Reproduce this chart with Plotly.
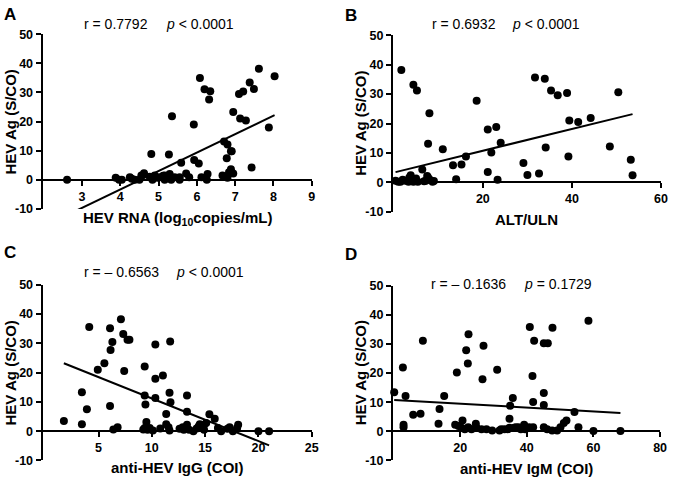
import plotly.graph_objects as go

# ---------------- data ----------------
A_x = [2.61, 3.88, 3.97, 4.04, 4.25, 4.30, 4.38, 4.50, 4.55, 4.62, 4.77, 4.81, 4.84, 4.90, 4.97,
       5.03, 5.12, 5.16, 5.16, 5.27, 5.29, 5.33, 5.35, 5.42, 5.55, 5.55, 5.59, 5.72, 5.80, 5.92,
       5.93, 6.05, 6.08, 6.12, 6.20, 6.26, 6.28, 6.32, 6.35, 6.67, 6.71, 6.80, 6.78, 6.89, 6.89,
       6.84, 6.91, 6.95, 6.95, 6.80, 7.10, 7.21, 7.13, 7.28, 7.38, 7.49, 7.43, 7.62, 7.88, 8.03]
A_y = [0, 0.7, 0, 0, 0.9, 0.4, 0, 0, 1.5, 2.3, 1.1, 8.9, 0, 1.5, 0.7,
       0.9, 1.4, 0, 1.5, 8.7, 2.0, 0, 21.8, 0.9, 0, 0.9, 5.9, 2.2, 0.9, 19.0,
       6.8, 5.6, 35.0, 0.9, 31.1, 0, 2.0, 27.6, 30.4, 1.5, 13.2, 12.1, 7.4, 9.8, 3.6,
       2.6, 9.8, 23.3, 2.2, 0.7, 29.5, 30.3, 21.1, 20.4, 33.4, 31.2, 4.2, 38.1, 18.0, 35.6]

B_x = [0.4, 1.0, 1.5, 2.0, 2.6, 3.3, 3.5, 4.0, 4.4, 3.8, 5.0, 5.4, 7.2, 7.7, 8.1, 8.7, 7.5, 6.8, 9.0,
       1.7, 4.4, 5.2, 6.4, 8.0, 7.7, 11.0, 13.3, 15.2, 16.2, 14.0, 18.6, 21.1, 23.0, 21.9, 24.0,
       21.1, 23.3, 29.1, 30.0, 31.7, 32.6, 33.9, 35.3, 36.8, 34.1, 38.9, 39.4, 39.2, 41.4, 44.2,
       48.5, 50.4, 53.2, 53.6]
B_y = [0.6, 0.2, 0.2, 0.9, 0.6, 0.2, 1.7, 0.9, 0.2, 2.4, 1.3, 0.2, 0.6, 1.7, 0.9, 0.2, 2.2, 0.4, 0.5,
       38.2, 33.2, 31.2, 4.4, 23.5, 13.1, 11.3, 5.8, 6.1, 8.8, 1.1, 27.7, 18.0, 18.8, 10.2, 13.5,
       3.5, 0.9, 6.6, 2.5, 35.6, 3.0, 35.2, 31.2, 29.6, 11.9, 30.4, 21.0, 8.8, 20.5, 21.9,
       12.2, 30.6, 7.7, 2.4]

C_x = [1.75, 3.44, 3.44, 3.91, 4.13, 4.93, 5.55, 6.08, 6.08, 6.13, 6.30, 6.39, 6.79, 7.10, 7.32,
       7.41, 7.72, 7.90, 9.33, 9.33, 9.40, 9.49, 9.33, 9.20, 9.6, 9.8, 10.1, 10.33, 10.33, 10.33,
       10.79, 11.04, 11.35, 11.35, 11.57, 11.66, 11.72, 11.75, 11.66, 13.3, 13.3, 12.6, 12.9, 13.0,
       13.3, 13.5, 13.9, 14.2, 14.4, 14.5, 14.7, 14.9, 15.1, 15.4, 15.9, 14.9, 16.2, 16.5, 17.1,
       17.3, 17.6, 18.0, 18.1, 20.0, 21.0]
C_y = [3.5, 13.3, 2.4, 7.5, 35.6, 21.0, 23.2, 35.1, 8.6, 27.7, 30.4, 0.6, 1.3, 38.2, 33.2,
       20.5, 31.2, 31.2, 22.1, 12.2, 9.1, 3.1, 1.1, 0.6, 0.5, 1.1, 0.2, 29.6, 17.9, 11.3,
       0.9, 19.0, 5.9, 2.4, 1.3, 13.1, 30.6, 9.9, 0.2, 12.2, 6.6, 0.8, 1.3, 0.5,
       2.2, 0.5, 0, 0.9, 1.7, 2.4, 1.3, 0.5, 2.8, 5.8, 4.2, 2.2, 1.1, 0, 0.8,
       1.3, 0, 1.1, 2.2, 0, 0]

D_x = [0.2, 2.8, 3.6, 3.0, 3.0, 5.9, 8.1, 8.8, 13.8, 13.5, 15.2, 19.0, 18.5, 19.5, 20.7, 20.4,
       21.4, 22.4, 21.8, 22.5, 22.3, 23.4, 24.7, 24.9, 26.4, 26.7, 27.0, 27.9, 29.6, 31.1, 31.8,
       32.3, 33.3, 34.3, 34.8, 35.0, 35.8, 34.8, 36.2, 36.7, 37.5, 38.2, 39.2, 39.5, 40.7, 40.9,
       41.7, 41.9, 41.9, 42.2, 45.1, 45.1, 45.1, 46.3, 45.1, 46.1, 47.6, 47.7, 49.1, 50.1, 51.1,
       51.9, 54.3, 55.5, 58.5, 60.0, 68.1]
D_y = [13.4, 21.9, 12.1, 2.3, 1.4, 5.7, 6.0, 31.1, 7.7, 2.6, 12.1, 20.2, 2.3, 1.8, 3.7, 1.2,
       0.7, 1.4, 27.8, 33.3, 23.3, 0.7, 2.6, 1.2, 0.7, 17.9, 29.4, 0.7, 0.3, 21.1, 0.3,
       0.7, 0.7, 0.7, 4.3, 8.8, 11.4, 1.2, 1.2, 1.4, 1.4, 0.7, 2.3, 0.7, 1.4, 35.8,
       19.0, 10.1, 1.4, 31.1, 13.2, 9.0, 30.2, 30.2, 1.4, 0.7, 0.3, 35.6, 0.3, 1.4, 2.9,
       3.7, 6.6, 1.4, 38.0, 0.1, 0.1]

# regression lines as drawn in the reference (slope, intercept)
FIT_SLOPE = [6.33, 0.370, -1.456, -0.066]
FIT_INTERCEPT = [-28.62, 3.35, 25.75, 10.81]

R_TEXT = ["r = 0.7792", "r = 0.6932", "r = \u2013 0.6563", "r = \u2013 0.1636"]
P_TEXT = ["<i>p</i> &lt; 0.0001", "<i>p</i> &lt; 0.0001", "<i>p</i> &lt; 0.0001", "<i>p</i> = 0.1729"]
PANEL_LABELS = ["A", "B", "C", "D"]
X_TITLES = ["HEV RNA (log<sub>10</sub>copies/mL)", "ALT/ULN", "anti-HEV IgG (COI)", "anti-HEV IgM (COI)"]
Y_TITLE = "HEV Ag (S/CO)"
X_TICKS = [[3, 4, 5, 6, 7, 8, 9], [20, 40, 60], [5, 10, 15, 20, 25], [20, 40, 60, 80]]
Y_TICKS = [-10, 0, 10, 20, 30, 40, 50]
Y_TICKTEXT = ["-10", "0", "10", "20", "30", "40", "50"]

# ---------------- layout geometry (pixels) ----------------
W, H = 675, 483
X_RANGES = [[1.97, 9], [-0.2, 60], [-0.25, 25], [-0.2, 80]]
PLOT_PX = [  # x0, x1, ytop, ybottom
    (43, 315, 28, 208),
    (397, 668, 29, 211),
    (43, 315, 286, 467),
    (397, 667, 287, 467),
]
R_POS = [(83, 17), (435, 18), (83, 273), (434, 285)]
P_POS = [(166, 17), (515, 18), (176, 273), (527, 285)]
LETTER_POS = [(2, 8), (347, 9), (2, 253), (347, 255)]
XTITLE_Y = [218, 219, 474, 475]
YTITLE_X = [11, 364, 11, 364]

FONT = "Liberation Sans, Arial, sans-serif"

fig = go.Figure()
datasets = [(A_x, A_y), (B_x, B_y), (C_x, C_y), (D_x, D_y)]
annotations = []
layout = {}

for i, (xs, ys) in enumerate(datasets):
    n = "" if i == 0 else str(i + 1)
    xa, ya = "x" + n, "y" + n
    x0, x1, yt, yb = PLOT_PX[i]
    dx = [x0 / W, x1 / W]
    dy = [1 - yb / H, 1 - yt / H]
    ymin, ymax = -10, 50
    zero_pos = dy[0] + (0 - ymin) / (ymax - ymin) * (dy[1] - dy[0])

    fig.add_trace(go.Scatter(x=xs, y=ys, mode="markers", xaxis=xa, yaxis=ya,
                             marker=dict(color="black", size=8, line=dict(width=0)),
                             cliponaxis=False, showlegend=False))
    lx = [min(xs), max(xs)]
    ly = [FIT_SLOPE[i] * v + FIT_INTERCEPT[i] for v in lx]
    fig.add_trace(go.Scatter(x=lx, y=ly, mode="lines", xaxis=xa, yaxis=ya,
                             line=dict(color="black", width=2), showlegend=False))

    layout["xaxis" + n] = dict(domain=dx, range=X_RANGES[i], anchor="free", position=zero_pos,
                               showline=True, linecolor="black", linewidth=2,
                               ticks="outside", ticklen=5, tickwidth=2, tickcolor="black",
                               tickvals=X_TICKS[i], showgrid=False, zeroline=False,
                               tickfont=dict(family=FONT, size=12.5, color="black", weight="bold"))
    layout["yaxis" + n] = dict(domain=dy, range=[ymin, ymax], anchor=xa,
                               showline=True, linecolor="black", linewidth=2,
                               ticks="outside", ticklen=5, tickwidth=2, tickcolor="black",
                               tickvals=Y_TICKS, ticktext=Y_TICKTEXT, showgrid=False, zeroline=False,
                               tickfont=dict(family=FONT, size=12.5, color="black", weight="bold"))

    annotations.append(dict(text=R_TEXT[i], x=R_POS[i][0] / W, y=1 - R_POS[i][1] / H,
                            xref="paper", yref="paper", xanchor="left", yanchor="middle",
                            showarrow=False, font=dict(family=FONT, size=14, color="black")))
    annotations.append(dict(text=P_TEXT[i], x=P_POS[i][0] / W, y=1 - P_POS[i][1] / H,
                            xref="paper", yref="paper", xanchor="left", yanchor="middle",
                            showarrow=False, font=dict(family=FONT, size=14, color="black")))
    annotations.append(dict(text="<b>" + PANEL_LABELS[i] + "</b>", x=LETTER_POS[i][0] / W,
                            y=1 - LETTER_POS[i][1] / H, xref="paper", yref="paper",
                            xanchor="left", yanchor="middle", showarrow=False,
                            font=dict(family=FONT, size=17, color="black")))
    annotations.append(dict(text="<b>" + X_TITLES[i] + "</b>", x=(x0 + x1) / 2 / W,
                            y=1 - XTITLE_Y[i] / H, xref="paper", yref="paper",
                            xanchor="center", yanchor="middle", showarrow=False,
                            font=dict(family=FONT, size=15, color="black")))
    annotations.append(dict(text="<b>" + Y_TITLE + "</b>", x=YTITLE_X[i] / W,
                            y=1 - (yt + yb) / 2 / H, xref="paper", yref="paper",
                            xanchor="center", yanchor="middle", textangle=-90, showarrow=False,
                            font=dict(family=FONT, size=15, color="black")))

fig.update_layout(width=W, height=H, autosize=False, margin=dict(l=0, r=0, t=0, b=0),
                  paper_bgcolor="white", plot_bgcolor="white", annotations=annotations,
                  font=dict(family=FONT, color="black"), **layout)

fig.write_html("out.html", config={"displayModeBar": False},
               post_script="document.body.style.margin='0';document.body.style.padding='0';"
                           "document.body.style.overflow='hidden';")
